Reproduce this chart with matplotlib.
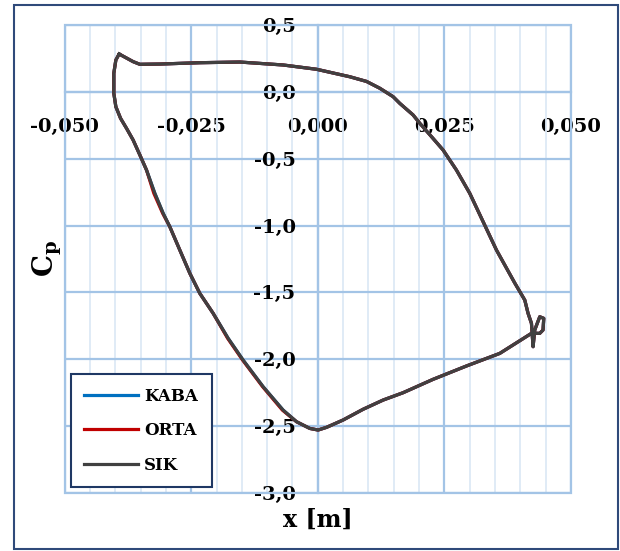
import numpy as np
import matplotlib.pyplot as plt
from matplotlib.patches import Rectangle
from matplotlib.ticker import MultipleLocator

plt.rcParams['font.family'] = 'DejaVu Serif'
plt.rcParams['font.weight'] = 'bold'
plt.rcParams['mathtext.fontset'] = 'dejavuserif'

# Cp distribution around the section
x_sik = [-0.03923, -0.03647, -0.03514, -0.03119, -0.02330, -0.01540, -0.00685, -0.00026,
         0.00632, 0.00962, 0.01224, 0.01487, 0.01619, 0.01882, 0.02014, 0.02245, 0.02474,
         0.02738, 0.03001, 0.03528,
         0.03890, 0.04087, 0.04152, 0.04219, 0.04251, 0.04284, 0.04383, 0.04462,
         0.04448, 0.04383, 0.04219, 0.03593, 0.02936, 0.02276, 0.01684, 0.01289,
         0.00894, 0.00500, 0.00172, 0.00006, -0.00158, -0.00420, -0.00685, -0.01080,
         -0.01475, -0.01771, -0.02067, -0.02330, -0.02527, -0.02725, -0.02922, -0.03054,
         -0.03218, -0.03382, -0.03514, -0.03647, -0.03777, -0.03895, -0.03988, -0.04028,
         -0.04028, -0.03988, -0.03923]
cp_sik = [0.283, 0.226, 0.206, 0.208, 0.218, 0.223, 0.201, 0.169,
          0.113, 0.078, 0.027, -0.036, -0.086, -0.173, -0.235, -0.335, -0.435,
          -0.585, -0.759, -1.183,
          -1.430, -1.557, -1.656, -1.731, -1.906, -1.781, -1.682, -1.694,
          -1.781, -1.806, -1.806, -1.956, -2.050, -2.150, -2.250, -2.305,
          -2.374, -2.454, -2.509, -2.529, -2.517, -2.467, -2.380, -2.205,
          -2.006, -1.843, -1.656, -1.507, -1.357, -1.183, -1.009, -0.908,
          -0.759, -0.585, -0.472, -0.360, -0.273, -0.198, -0.111, -0.011,
          0.139, 0.238, 0.283]

x_kaba = list(x_sik)
cp_kaba = list(cp_sik)

x_orta = [-0.03923, -0.03647, -0.03514, -0.03119, -0.02330, -0.01540, -0.00685, -0.00026,
          0.00632, 0.00962, 0.01224, 0.01487, 0.01619, 0.01882, 0.02014, 0.02245, 0.02474,
          0.02738, 0.03001, 0.03528,
          0.03890, 0.04087, 0.04152, 0.04219, 0.04251, 0.04284, 0.04383, 0.04462,
          0.04448, 0.04383, 0.04219, 0.03593, 0.02936, 0.02276, 0.01684, 0.01289,
          0.00894, 0.00500, 0.00172, 0.00006, -0.00158, -0.00420, -0.00700, -0.01090,
          -0.01485, -0.01781, -0.02067, -0.02330, -0.02527, -0.02725, -0.02922, -0.03064,
          -0.03238, -0.03382, -0.03514, -0.03647, -0.03777, -0.03895, -0.03988, -0.04028,
          -0.04028, -0.03988, -0.03923]
cp_orta = list(cp_sik)

series = ['KABA', 'ORTA', 'SIK']
colors = ['#0070C0', '#C00000', '#404040']

major_c = '#a3c4e6'
minor_c = '#dde9f6'

fig = plt.figure(figsize=(6.2, 5.51), dpi=100)
ax = fig.add_axes([64.6 / 620, 1 - 493 / 551, 506.4 / 620, 468 / 551])

for name, xs, ys, c in zip(series, [x_kaba, x_orta, x_sik], [cp_kaba, cp_orta, cp_sik], colors):
    ax.plot(xs, ys, color=c, lw=2.3, label=name, zorder=3, solid_joinstyle='round')

ax.set_xlim(-0.05, 0.05)
ax.set_ylim(-3.0, 0.5)
ax.xaxis.set_major_locator(MultipleLocator(0.025))
ax.xaxis.set_minor_locator(MultipleLocator(0.005))
ax.yaxis.set_major_locator(MultipleLocator(0.5))
ax.grid(which='minor', axis='x', color=minor_c, lw=1.3, zorder=0)
ax.grid(which='major', color=major_c, lw=1.6, zorder=1)
ax.set_axisbelow(True)

for s in ['top', 'right']:
    ax.spines[s].set_visible(False)
ax.spines['left'].set_position(('data', 0))
ax.spines['bottom'].set_position(('data', 0))
ax.spines['left'].set_color(major_c)
ax.spines['bottom'].set_color(major_c)
ax.spines['left'].set_linewidth(1.6)
ax.spines['bottom'].set_linewidth(1.6)
ax.add_patch(Rectangle((0, 0), 1, 1, transform=ax.transAxes, fill=False,
                       edgecolor=major_c, lw=1.6, clip_on=False, zorder=1))

ax.tick_params(which='both', length=0)
ax.tick_params(axis='x', pad=19, labelsize=14)
ax.tick_params(axis='y', pad=16, labelsize=14)
ax.xaxis.set_major_formatter(lambda v, p: f'{v:.3f}'.replace('.', ','))
ax.yaxis.set_major_formatter(lambda v, p: f'{v:.1f}'.replace('.', ','))
for lab in ax.get_xticklabels() + ax.get_yticklabels():
    lab.set_fontweight('bold')

leg = ax.legend(loc='lower left', bbox_to_anchor=(0.0126, 0.0128), borderaxespad=0,
                fontsize=12, handlelength=3.2, handletextpad=0.4, labelspacing=1.05,
                borderpad=0.8, fancybox=False, framealpha=1)
leg.get_frame().set_edgecolor('#1f3864')
leg.get_frame().set_linewidth(1.5)
for t in leg.get_texts():
    t.set_fontweight('bold')
for l in leg.get_lines():
    l.set_linewidth(2.3)

fig.text(318 / 620, 1 - 520 / 551, 'x [m]', ha='center', va='center', fontsize=17, fontweight='bold')
fig.text(47 / 620, 1 - 258 / 551, r'$\mathbf{C_p}$', ha='center', va='center', fontsize=20, rotation=90)

fig.patches.append(Rectangle((14 / 620, 1 - 549 / 551), 604 / 620, 544 / 551, transform=fig.transFigure,
                             fill=False, edgecolor='#2f4a7a', lw=1.5))

fig.savefig('out.png', dpi=100)
